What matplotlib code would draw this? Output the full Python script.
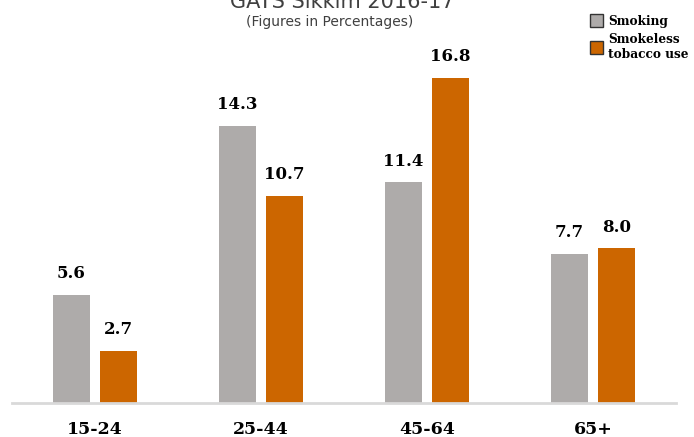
import matplotlib.pyplot as plt
import numpy as np
from matplotlib.patches import Patch

groups = ['15-24', '25-44', '45-64', '65+']
smoking = [5.6, 14.3, 11.4, 7.7]
smokeless = [2.7, 10.7, 16.8, 8.0]

c_smoke = '#AEABAA'
c_less = '#CC6600'

fig = plt.figure(figsize=(6.94, 4.37), dpi=100)
ax = fig.add_axes([12 / 694, 34 / 437, 664 / 694, 403 / 437])

x = np.arange(len(groups))
w = 0.223
off = 0.142
b1 = ax.bar(x - off, smoking, w, color=c_smoke)
b2 = ax.bar(x + off, smokeless, w, color=c_less)

for bars, vals in [(b1, smoking), (b2, smokeless)]:
    for b, v in zip(bars, vals):
        ax.annotate(f'{v:.1f}', (b.get_x() + b.get_width() / 2, v),
                    xytext=(0, 9), textcoords='offset points',
                    ha='center', va='bottom', fontsize=12,
                    fontweight='bold', family='DejaVu Serif')

ax.set_xlim(-0.5, 3.5)
ax.set_ylim(0, 20.8)
ax.set_xticks(x)
ax.set_xticklabels(groups, fontsize=12.5, fontweight='bold', family='DejaVu Serif')
ax.tick_params(axis='x', length=0, pad=13)
ax.set_yticks([])
for s in ['top', 'right', 'left']:
    ax.spines[s].set_visible(False)
ax.spines['bottom'].set_color('#D9D9D9')
ax.spines['bottom'].set_linewidth(2)

# title is partly cut at the top edge, as in the original
fig.text(342 / 694, 1 - 2 / 437, 'GATS Sikkim 2016-17', ha='center', va='center',
         fontsize=15, color='#404040')
fig.text(330 / 694, 1 - 22 / 437, '(Figures in Percentages)', ha='center', va='center',
         fontsize=10, color='#404040')

handles = [Patch(facecolor=c_smoke, edgecolor='#333333'),
           Patch(facecolor=c_less, edgecolor='#333333')]
fig.legend(handles, ['Smoking', 'Smokeless\ntobacco use'], loc='upper left',
           bbox_to_anchor=(579 / 694, 1 - 3 / 437), frameon=False,
           prop={'family': 'DejaVu Serif', 'weight': 'bold', 'size': 8.7},
           handlelength=1.1, handleheight=1.3, handletextpad=0.4, labelspacing=0.45)

fig.savefig('out.png', dpi=100)
